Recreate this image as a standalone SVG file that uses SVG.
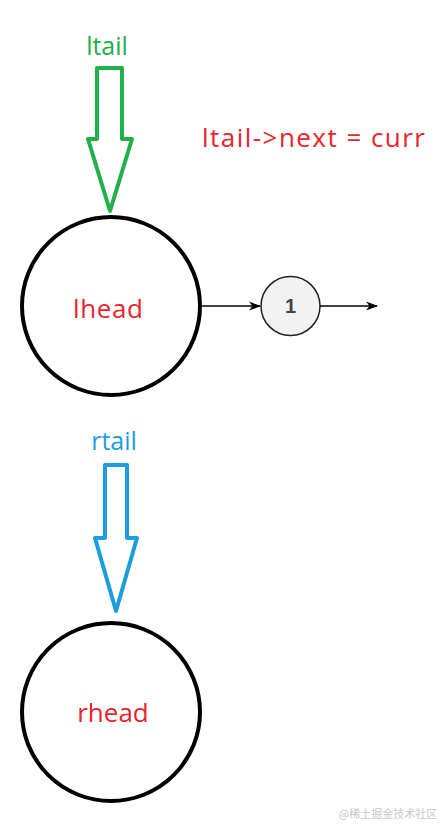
<svg xmlns="http://www.w3.org/2000/svg" width="446" height="831" viewBox="0 0 446 831">
<style>
.big{fill:none;stroke:#000;stroke-width:4}
.lbl{font-family:"Open Sans","Noto Sans",sans-serif;font-size:25px;text-anchor:middle}
.red{fill:#e8242e}
.edge{stroke:#000;stroke-width:1.5;fill:none}
</style>
<defs>
<marker id="ah" markerWidth="12" markerHeight="12" refX="11" refY="6" orient="auto" markerUnits="userSpaceOnUse">
<path d="M0,1.5 L12,6 L0,10.5 L3.5,6 Z" fill="#000"/>
</marker>
</defs>
<rect width="446" height="831" fill="#fff"/>
<g id="ltail">
<text class="lbl" x="107" y="55" fill="#22b04a">ltail</text>
<path d="M97,68 L122,68 L122,139 L132,139 L110,211 L88,139 L97,139 Z" fill="none" stroke="#22b04a" stroke-width="4" stroke-linejoin="round"/>
</g>
<g id="note">
<text class="lbl red" x="313.5" y="147" style="font-size:26px" textLength="223" lengthAdjust="spacing">ltail-&gt;next = curr</text>
</g>
<g id="lhead">
<circle class="big" cx="111" cy="306" r="89"/>
<text class="lbl red" x="108" y="318" textLength="70" lengthAdjust="spacing" style="font-size:26px">lhead</text>
</g>
<g id="n1">
<circle cx="290.5" cy="306" r="29.5" fill="#f2f2f2" stroke="#222" stroke-width="1.5"/>
<text x="290.5" y="313" font-family="Liberation Sans,Arial,sans-serif" font-size="20" font-weight="bold" fill="#444" text-anchor="middle">1</text>
</g>
<g id="connectors">
<line class="edge" x1="201" y1="306" x2="260" y2="306" marker-end="url(#ah)"/>
<line class="edge" x1="320" y1="306" x2="377" y2="306" marker-end="url(#ah)"/>
</g>
<g id="rtail">
<text class="lbl" x="114" y="450" fill="#1a9ee0">rtail</text>
<path d="M105,465 L127,465 L127,538 L137,538 L116,611 L95,538 L105,538 Z" fill="none" stroke="#1a9ee0" stroke-width="4" stroke-linejoin="round"/>
</g>
<g id="rhead">
<circle class="big" cx="111" cy="712" r="89"/>
<text class="lbl red" x="113" y="722" style="font-size:26px">rhead</text>
</g>
<text x="388" y="818" font-family="Noto Sans CJK SC,sans-serif" font-size="11" fill="#c8c8c8" text-anchor="middle">@稀土掘金技术社区</text>
</svg>
